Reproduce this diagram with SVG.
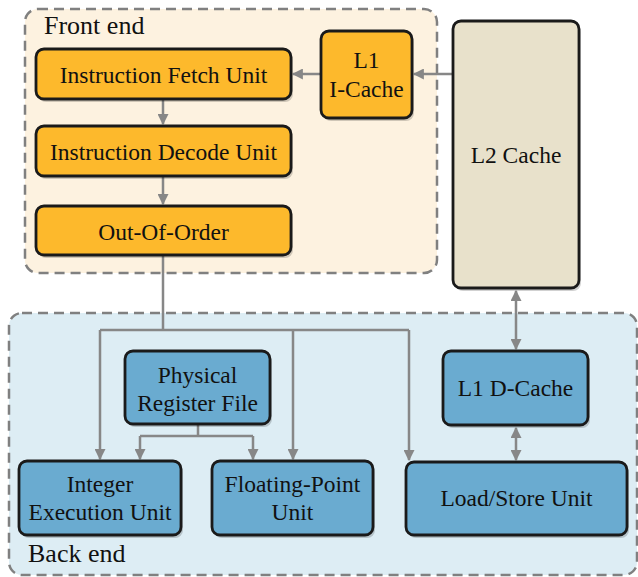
<svg xmlns="http://www.w3.org/2000/svg" width="638" height="577" viewBox="0 0 638 577">
<defs>
<marker id="ah" viewBox="0 0 10 10" refX="9" refY="5" markerWidth="4.4" markerHeight="4.4" orient="auto-start-reverse" markerUnits="strokeWidth">
<path d="M0,0 L10,5 L0,10 z" fill="#878787"/>
</marker>
</defs>
<g stroke="#808080" stroke-width="2.5" stroke-dasharray="10 6">
<g id="frontend">
<rect x="25" y="9" width="412" height="264" rx="13" fill="#fdf2e0"/>
<text x="44" y="34" fill="#111" stroke="none" font-family="Liberation Serif" font-size="26">Front end</text>
</g>
<g id="backend">
<rect x="9" y="313" width="628" height="262" rx="13" fill="#ddedf4"/>
<text x="28" y="562" fill="#111" stroke="none" font-family="Liberation Serif" font-size="26">Back end</text>
</g>
</g>
<g id="connectors" fill="none" stroke="#878787" stroke-width="2.5">
<path d="M163,99 V124" marker-end="url(#ah)"/>
<path d="M163,176 V204" marker-end="url(#ah)"/>
<path d="M453,74 H414" marker-end="url(#ah)"/>
<path d="M321,74 H293" marker-end="url(#ah)"/>
<path d="M163,255 V330 M100,330 H409"/>
<path d="M100,330 V459" marker-end="url(#ah)"/>
<path d="M293,330 V459" marker-end="url(#ah)"/>
<path d="M409,330 V460" marker-end="url(#ah)"/>
<path d="M198,424 V436 M140,436 H253"/>
<path d="M140,436 V459" marker-end="url(#ah)"/>
<path d="M253,436 V459" marker-end="url(#ah)"/>
<path d="M516,291 V349" marker-start="url(#ah)" marker-end="url(#ah)"/>
<path d="M516,428 V460" marker-start="url(#ah)" marker-end="url(#ah)"/>
</g>
<g id="shadows" fill="#000" fill-opacity="0.18">
<rect x="38" y="52" width="255" height="50" rx="8"/>
<rect x="38" y="129" width="255" height="50" rx="8"/>
<rect x="38" y="209" width="255" height="49" rx="8"/>
<rect x="323" y="34" width="91" height="87" rx="8"/>
<rect x="455" y="24" width="126" height="267" rx="8"/>
<rect x="127" y="354" width="145" height="73" rx="8"/>
<rect x="21" y="464" width="162" height="74" rx="8"/>
<rect x="214" y="464" width="161" height="74" rx="8"/>
<rect x="445" y="354" width="145" height="74" rx="8"/>
<rect x="408" y="465" width="221" height="73" rx="8"/>
</g>
<g font-family="Liberation Serif" font-size="23.5" text-anchor="middle" stroke-width="2.8">
<g id="fetch">
<rect x="36" y="49" width="255" height="50" rx="8" fill="#fdb92c" stroke="#1a1a1a"/>
<text x="163.5" y="83" fill="#111">Instruction Fetch Unit</text>
</g>
<g id="decode">
<rect x="36" y="126" width="255" height="50" rx="8" fill="#fdb92c" stroke="#1a1a1a"/>
<text x="163.5" y="160" fill="#111">Instruction Decode Unit</text>
</g>
<g id="ooo">
<rect x="36" y="206" width="255" height="49" rx="8" fill="#fdb92c" stroke="#1a1a1a"/>
<text x="163.5" y="240" fill="#111">Out-Of-Order</text>
</g>
<g id="l1i">
<rect x="321" y="31" width="91" height="87" rx="8" fill="#fdb92c" stroke="#1a1a1a"/>
<text x="366.5" y="68" fill="#111">L1</text>
<text x="366.5" y="97" fill="#111">I-Cache</text>
</g>
<g id="l2">
<rect x="453" y="21" width="126" height="267" rx="8" fill="#e8e1cb" stroke="#1a1a1a"/>
<text x="516" y="163" fill="#111">L2 Cache</text>
</g>
<g id="prf">
<rect x="125" y="351" width="145" height="73" rx="8" fill="#6aabd0" stroke="#1a1a1a"/>
<text x="197.5" y="383" fill="#111">Physical</text>
<text x="197.5" y="411" fill="#111">Register File</text>
</g>
<g id="int">
<rect x="19" y="461" width="162" height="74" rx="8" fill="#6aabd0" stroke="#1a1a1a"/>
<text x="100" y="492" fill="#111">Integer</text>
<text x="100" y="520" fill="#111">Execution Unit</text>
</g>
<g id="fp">
<rect x="212" y="461" width="161" height="74" rx="8" fill="#6aabd0" stroke="#1a1a1a"/>
<text x="292.5" y="492" fill="#111">Floating-Point</text>
<text x="292.5" y="520" fill="#111">Unit</text>
</g>
<g id="l1d">
<rect x="443" y="351" width="145" height="74" rx="8" fill="#6aabd0" stroke="#1a1a1a"/>
<text x="515.5" y="396" fill="#111">L1 D-Cache</text>
</g>
<g id="lsu">
<rect x="406" y="462" width="221" height="73" rx="8" fill="#6aabd0" stroke="#1a1a1a"/>
<text x="516.5" y="506" fill="#111">Load/Store Unit</text>
</g>
</g>
</svg>
